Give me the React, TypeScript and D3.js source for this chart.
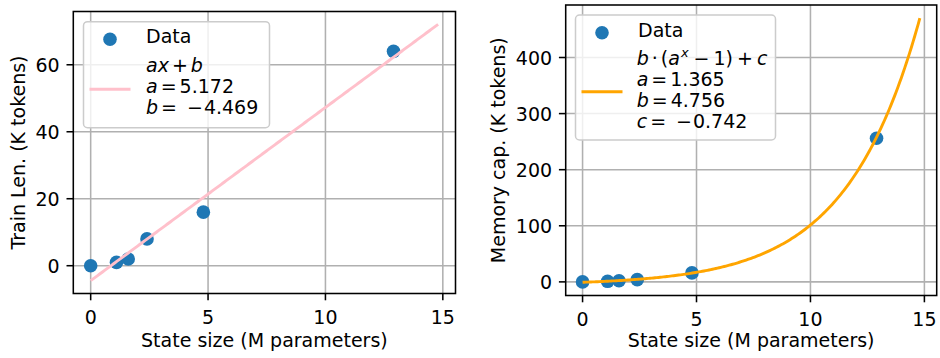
import * as d3 from "d3";

// measured values (state size in M parameters)
const STATE_SIZE = [0, 1.1, 1.6, 2.4, 4.8, 12.9];
const TRAIN_LEN = [0, 1, 2, 8, 16, 64];
const MEMORY_CAP = [0, 1, 2, 4, 16, 256];

const X_TICKS = [0, 5, 10, 15];
const TRAIN_TICKS = [0, 20, 40, 60];
const MEMORY_TICKS = [0, 100, 200, 300, 400];

// fit parameters shown in the legends
const LIN_A = 5.172;
const LIN_B = -4.469;
const EXP_A = 1.365;
const EXP_B = 4.756;
const EXP_C = -0.742;
const FIT_RANGE = [0, 14.8];

const FONT = "DejaVu Sans, sans-serif";
const FS = 19;
const LW = 1.55;
const TICK = 6.8;
const BLUE = "#1f77b4";

type Box = { x0: number; x1: number; y0: number; y1: number };

function withMargin(lo: number, hi: number) {
  const m = (hi - lo) * 0.05;
  return [lo - m, hi + m];
}

function Panel(props: {
  box: Box;
  ys: number[];
  yTicks: number[];
  fit: (x: number) => number;
  fitColor: string;
  yLabel: string;
  yLabelX: number;
  legend: { x: number; y: number; w: number; h: number };
  legendRows: JSX.Element;
  dataRowY: number;
  handleY: number;
}) {
  const { box, ys, yTicks, fit, fitColor } = props;
  const fitXs = d3.range(0, 201).map((i) => FIT_RANGE[0] + ((FIT_RANGE[1] - FIT_RANGE[0]) * i) / 200);
  const fitYs = fitXs.map(fit);
  const xDom = withMargin(0, FIT_RANGE[1]);
  const yDom = withMargin(Math.min(d3.min(ys)!, d3.min(fitYs)!), Math.max(d3.max(ys)!, d3.max(fitYs)!));
  const x = d3.scaleLinear().domain(xDom).range([box.x0, box.x1]);
  const y = d3.scaleLinear().domain(yDom).range([box.y1, box.y0]);
  const line = d3
    .line<number>()
    .x((d) => x(d))
    .y((d, i) => y(fitYs[i]));
  const lg = props.legend;
  return (
    <g fontFamily={FONT} fontSize={FS}>
      {/* grid */}
      {X_TICKS.map((t) => (
        <line key={"gx" + t} x1={x(t)} x2={x(t)} y1={box.y0} y2={box.y1} stroke="#b0b0b0" strokeWidth={LW} />
      ))}
      {yTicks.map((t) => (
        <line key={"gy" + t} x1={box.x0} x2={box.x1} y1={y(t)} y2={y(t)} stroke="#b0b0b0" strokeWidth={LW} />
      ))}
      {/* data */}
      {STATE_SIZE.map((s, i) => (
        <circle key={"p" + i} cx={x(s)} cy={y(ys[i])} r={6.8} fill={BLUE} />
      ))}
      <path d={line(fitXs) || ""} fill="none" stroke={fitColor} strokeWidth={2.9} />
      {/* spines */}
      <rect x={box.x0} y={box.y0} width={box.x1 - box.x0} height={box.y1 - box.y0} fill="none" stroke="#000" strokeWidth={LW} />
      {/* ticks */}
      {X_TICKS.map((t) => (
        <g key={"tx" + t}>
          <line x1={x(t)} x2={x(t)} y1={box.y1} y2={box.y1 + TICK} stroke="#000" strokeWidth={LW} />
          <text x={x(t)} y={box.y1 + 30} textAnchor="middle">{t}</text>
        </g>
      ))}
      {yTicks.map((t) => (
        <g key={"ty" + t}>
          <line x1={box.x0 - TICK} x2={box.x0} y1={y(t)} y2={y(t)} stroke="#000" strokeWidth={LW} />
          <text x={box.x0 - 2 * TICK} y={y(t) + 7} textAnchor="end">{t}</text>
        </g>
      ))}
      <text x={(box.x0 + box.x1) / 2} y={347} textAnchor="middle">State size (M parameters)</text>
      <text transform={`translate(${props.yLabelX},${(box.y0 + box.y1) / 2}) rotate(-90)`} textAnchor="middle">
        {props.yLabel}
      </text>
      {/* legend */}
      <rect x={lg.x} y={lg.y} width={lg.w} height={lg.h} rx={4} fill="#fff" fillOpacity={0.8} stroke="#cccccc" strokeWidth={1.5} />
      <circle cx={lg.x + 26.5} cy={props.dataRowY - 4} r={6.8} fill={BLUE} />
      <text x={lg.x + 62.5} y={props.dataRowY}>Data</text>
      <line x1={lg.x + 6} x2={lg.x + 47} y1={props.handleY} y2={props.handleY} stroke={fitColor} strokeWidth={2.9} />
      {props.legendRows}
    </g>
  );
}

export default function App() {
  const leftBox = { x0: 73.3, x1: 455.5, y0: 11.5, y1: 293.5 };
  const rightBox = { x0: 565.7, x1: 936.7, y0: 5, y1: 295.5 };
  const lt = 146;
  const rt = 636.7;
  return (
    <svg width={940} height={358} style={{ position: "absolute", left: 0, top: 0, background: "#fff" }}>
      <Panel
        box={leftBox}
        ys={TRAIN_LEN}
        yTicks={TRAIN_TICKS}
        fit={(v) => LIN_A * v + LIN_B}
        fitColor="pink"
        yLabel="Train Len. (K tokens)"
        yLabelX={24.5}
        legend={{ x: 83.5, y: 21.7, w: 186, h: 106 }}
        dataRowY={43.3}
        handleY={89.3}
        legendRows={
          <g>
            <text x={lt} y={71.7}>
              <tspan fontStyle="italic">ax</tspan>
              <tspan dx={3}>+</tspan>
              <tspan dx={3} fontStyle="italic">b</tspan>
            </text>
            <text x={lt} y={92.7}>
              <tspan fontStyle="italic">a</tspan>
              <tspan dx={3}>=</tspan>
              <tspan dx={3}>{LIN_A.toFixed(3)}</tspan>
            </text>
            <text x={lt} y={113.5}>
              <tspan fontStyle="italic">b</tspan>
              <tspan dx={3}>=</tspan>
              <tspan dx={10}>{"\u2212"}</tspan>
              <tspan dx={1}>{Math.abs(LIN_B).toFixed(3)}</tspan>
            </text>
          </g>
        }
      />
      <Panel
        box={rightBox}
        ys={MEMORY_CAP}
        yTicks={MEMORY_TICKS}
        fit={(v) => EXP_B * (Math.pow(EXP_A, v) - 1) + EXP_C}
        fitColor="orange"
        yLabel="Memory cap. (K tokens)"
        yLabelX={505}
        legend={{ x: 575.5, y: 15, w: 200, h: 125 }}
        dataRowY={36.7}
        handleY={91.7}
        legendRows={
          <g>
            <text x={rt} y={65}>
              <tspan fontStyle="italic">b</tspan>
              <tspan dx={3}>·</tspan>
              <tspan dx={3}>(</tspan>
              <tspan fontStyle="italic">a</tspan>
              <tspan fontStyle="italic" fontSize={13} dx={1} dy={-8}>x</tspan>
              <tspan dx={5} dy={8}>−</tspan>
              <tspan dx={4}>1)</tspan>
              <tspan dx={4}>+</tspan>
              <tspan dx={4} fontStyle="italic">c</tspan>
            </text>
            <text x={rt} y={85.5}>
              <tspan fontStyle="italic">a</tspan>
              <tspan dx={3}>=</tspan>
              <tspan dx={3}>{EXP_A.toFixed(3)}</tspan>
            </text>
            <text x={rt} y={106.5}>
              <tspan fontStyle="italic">b</tspan>
              <tspan dx={3}>=</tspan>
              <tspan dx={3}>{EXP_B.toFixed(3)}</tspan>
            </text>
            <text x={rt} y={127.5}>
              <tspan fontStyle="italic">c</tspan>
              <tspan dx={3}>=</tspan>
              <tspan dx={10}>{"\u2212"}</tspan>
              <tspan dx={1}>{Math.abs(EXP_C).toFixed(3)}</tspan>
            </text>
          </g>
        }
      />
    </svg>
  );
}
